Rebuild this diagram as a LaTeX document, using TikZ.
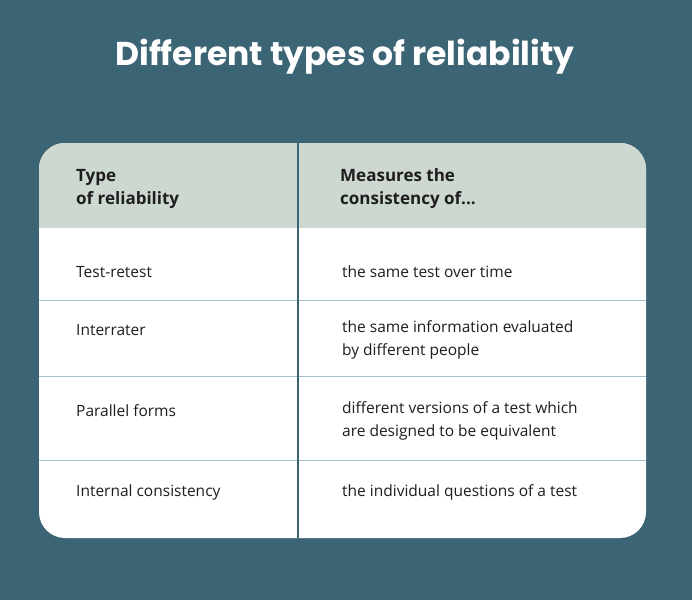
\documentclass[tikz,border=0pt]{standalone}
\usepackage{fontspec}
\setmainfont{Open Sans}
\newfontfamily\titlefont{Poppins}
\definecolor{bgc}{HTML}{3B6474}
\definecolor{hdr}{HTML}{CDD8D0}
\definecolor{rowl}{HTML}{A9C0CC}
\definecolor{txt}{HTML}{1E1E1E}
\begin{document}
\begin{tikzpicture}[x=1pt,y=-1pt,
  cell/.style={anchor=west,align=left,text=txt,font=\fontsize{15.5}{23}\selectfont,inner sep=0pt},
  head/.style={cell,font=\fontsize{17}{23}\selectfont\bfseries}]
\fill[bgc] (0,0) rectangle (692,600);
\useasboundingbox (0,0) rectangle (692,600);
\node[text=white,font=\fontsize{33}{40}\selectfont\titlefont\bfseries] (title) at (345,57) {Different types of reliability};
\fill[white,rounded corners=26pt] (39,143) rectangle (646,538);
\begin{scope}
\clip[rounded corners=26pt] (39,143) rectangle (646,538);
\fill[hdr] (39,143) rectangle (646,228);
\end{scope}
\foreach \y in {300,376,460} \draw[rowl,line width=1pt] (39,\y) -- (646,\y);
\draw[bgc,line width=1.8pt] (298,143) -- (298,538);
\node[head] (h1) at (76,189) {Type\\of reliability};
\node[head] (h2) at (340,189) {Measures the\\consistency of...};
\node[cell] (a1) at (76,272) {Test-retest};
\node[cell] (b1) at (342,272) {the same test over time};
\node[cell] (a2) at (76,330) {Interrater};
\node[cell] (b2) at (342,340) {the same information evaluated\\by different people};
\node[cell] (a3) at (76,411) {Parallel forms};
\node[cell] (b3) at (342,421) {different versions of a test which\\are designed to be equivalent};
\node[cell] (a4) at (76,492) {Internal consistency};
\node[cell] (b4) at (342,492) {the individual questions of a test};
\end{tikzpicture}
\end{document}
